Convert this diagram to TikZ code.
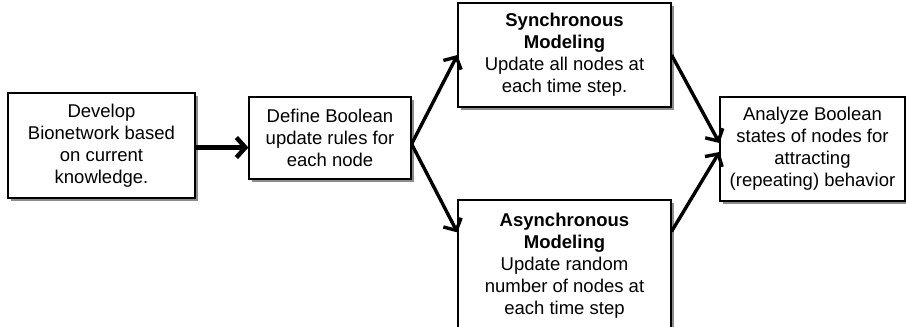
\documentclass[tikz,border=0pt]{standalone}
\usepackage{fontspec}
\setmainfont{Liberation Sans}
\usetikzlibrary{arrows.meta,shadows}

\begin{document}
\begin{tikzpicture}[x=1pt,y=-1pt,line width=3.4pt,>={Straight Barb[length=9pt,width=20pt]},
	font=\fontsize{18.5}{22}\selectfont]
	\tikzstyle{box}=[draw,line width=1.2pt,fill=white,align=center,inner sep=0pt,
		drop shadow={shadow xshift=2.5pt,shadow yshift=-2.5pt,fill=black!45,opacity=1}]

	\useasboundingbox (0,0) rectangle (906,327);
	\clip (0,0) rectangle (906,327);

	\node[box,minimum width=187pt,minimum height=105pt] (dev) at (101.5,145.5)
		{Develop\\Bionetwork based\\on current\\knowledge.};
	\node[box,minimum width=162pt,minimum height=82pt] (rules) at (330,138)
		{Define Boolean\\update rules for\\each node};
	\node[box,minimum width=213pt,minimum height=104pt] (sync) at (564.5,55)
		{\textbf{Synchronous}\\\textbf{Modeling}\\Update all nodes at\\each time step.};
	\node[box,minimum width=213pt,minimum height=132pt] (async) at (564.5,266)
		{\textbf{Asynchronous}\\\textbf{Modeling}\\Update random\\number of nodes at\\each time step};
	\node[box,minimum width=185pt,minimum height=104pt] (an) at (812.5,149)
		{Analyze Boolean\\states of nodes for\\attracting\\(repeating) behavior};

	\coordinate (split) at ([yshift=-6pt]rules.east);
	\coordinate (ain) at ([yshift=-33pt]async.north west);
	\coordinate (aout) at ([yshift=-32pt]async.north east);

	\draw[->,line width=4.5pt] ([yshift=-2pt]dev.east) -- ([yshift=-2pt]dev.east -| rules.west);
	\draw[->] (split) -- (sync.west);
	\draw[->] (split) -- (ain);
	\draw[->] (sync.east) -- ([yshift=6pt]an.west);
	\draw[->] (aout) -- ([yshift=-3pt]an.west);
\end{tikzpicture}
\end{document}
